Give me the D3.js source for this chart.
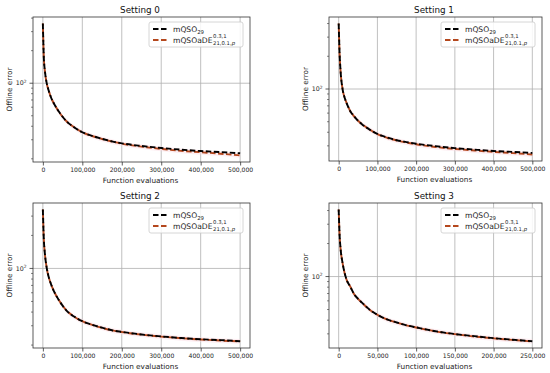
<!DOCTYPE html>
<html>
<head>
<meta charset="utf-8">
<script src="https://cdn.jsdelivr.net/npm/d3@7"></script>
<style>
  body { margin: 0; background: #fff; }
  svg { display: block; font-family: "DejaVu Sans", sans-serif; }
</style>
</head>
<body>
<svg id="chart" width="550" height="373"></svg>
<script>
// evaluation points (settings 0-2 run to 500k, setting 3 to 250k)
var evals = [0, 2500, 5000, 10000, 15000, 20000, 30000, 40000, 50000, 60000, 80000,
  100000, 125000, 150000, 175000, 200000, 250000, 300000, 350000, 400000, 450000, 500000];
var evalsHalf = [0, 1250, 2500, 5000, 7500, 10000, 15000, 20000, 25000, 30000, 40000,
  50000, 62500, 75000, 87500, 100000, 125000, 150000, 175000, 200000, 225000, 250000];

// offline error
var s0_mqso = [356, 170, 132, 99, 85, 75, 63, 55, 49, 44.5, 39, 35.2, 32.6, 30.6, 29.0, 27.8, 26.3, 25.2, 24.3, 23.6, 23.1, 22.5];
var s0_ade  = [356, 170, 132, 99, 85, 75, 63, 55, 49, 44.5, 39, 35.1, 32.5, 30.5, 28.9, 27.6, 25.9, 24.7, 23.7, 23.0, 22.3, 21.5];
var s1_mqso = [400, 206, 144, 100, 84, 75, 62.5, 56, 51, 47.5, 42.3, 38.6, 35.8, 33.8, 32.5, 31.4, 29.8, 28.6, 27.7, 26.9, 26.4, 25.8];
var s1_ade  = [400, 206, 144, 100, 84, 75, 62.5, 56, 51, 47.5, 42.3, 38.5, 35.6, 33.6, 32.2, 31.0, 29.3, 28.1, 27.2, 26.4, 25.7, 25.0];
var s2_mqso = [344, 182, 138, 100, 83, 73, 60, 51.8, 45.8, 41.3, 36.2, 33.0, 30.6, 28.8, 27.3, 26.4, 25.0, 24.0, 23.2, 22.6, 22.2, 21.7];
var s2_ade  = [344, 182, 138, 100, 83, 73, 60, 51.8, 45.8, 41.3, 36.2, 33.0, 30.6, 28.7, 27.3, 26.3, 24.9, 23.9, 23.1, 22.5, 22.0, 21.6];
var s3_mqso = [408, 234, 178, 133, 109, 94.4, 80.8, 69, 62.6, 57.8, 49.8, 44.8, 40.6, 38.1, 35.9, 34.4, 31.7, 29.9, 28.6, 27.4, 26.5, 25.7];
var s3_ade  = [408, 234, 178, 133, 109, 94.4, 80.8, 69, 62.6, 57.8, 49.8, 44.8, 40.6, 38.1, 35.9, 34.3, 31.6, 29.8, 28.4, 27.3, 26.4, 25.6];

var xTicks = [0, 100000, 200000, 300000, 400000, 500000];
var xTicksHalf = [0, 50000, 100000, 150000, 200000, 250000];
var titles = ["Setting 0", "Setting 1", "Setting 2", "Setting 3"];

var panels = [
  {left: 33,  top: 17,  w: 217, h: 145, x: evals,     a: s0_mqso, b: s0_ade, ticks: xTicks,     xmax: 500000},
  {left: 329, top: 17,  w: 213, h: 144, x: evals,     a: s1_mqso, b: s1_ade, ticks: xTicks,     xmax: 500000},
  {left: 33,  top: 203, w: 217, h: 145, x: evals,     a: s2_mqso, b: s2_ade, ticks: xTicks,     xmax: 500000},
  {left: 329, top: 203, w: 213, h: 145, x: evalsHalf, a: s3_mqso, b: s3_ade, ticks: xTicksHalf, xmax: 250000}
];

var ADE_COLOR = "#b4471d";
var DASH = "5.5,2.5";
var fmt = d3.format(",");
var svg = d3.select("#chart");

panels.forEach(function(p, i){
  var g = svg.append("g").attr("transform", "translate(" + p.left + "," + p.top + ")");

  var x = d3.scaleLinear()
    .domain([-0.05 * p.xmax, 1.05 * p.xmax])
    .range([0, p.w]);

  var all = p.a.concat(p.b);
  var lo = Math.log10(d3.min(all)), hi = Math.log10(d3.max(all));
  var pad = 0.05 * (hi - lo);
  var y = d3.scaleLog()
    .domain([Math.pow(10, lo - pad), Math.pow(10, hi + pad)])
    .range([p.h, 0]);

  // grid
  g.selectAll(".vgrid").data(p.ticks).enter().append("line")
    .attr("x1", function(d){ return x(d); }).attr("x2", function(d){ return x(d); })
    .attr("y1", 0).attr("y2", p.h)
    .attr("stroke", "#b0b0b0").attr("stroke-width", 0.8);

  var majors = [10, 100, 1000].filter(function(v){ return v >= y.domain()[0] && v <= y.domain()[1]; });
  g.selectAll(".hgrid").data(majors).enter().append("line")
    .attr("x1", 0).attr("x2", p.w)
    .attr("y1", function(d){ return y(d); }).attr("y2", function(d){ return y(d); })
    .attr("stroke", "#b0b0b0").attr("stroke-width", 0.8);

  // faint spread band
  var band = d3.area()
    .x(function(d, j){ return x(p.x[j]); })
    .y0(function(d){ return y(d * 0.95); })
    .y1(function(d){ return y(d * 1.05); })
    .curve(d3.curveMonotoneX);
  g.append("path").datum(p.b).attr("d", band)
    .attr("fill", "#fbd9e3").attr("opacity", 0.45);

  var line = d3.line()
    .x(function(d, j){ return x(p.x[j]); })
    .y(function(d){ return y(d); })
    .curve(d3.curveMonotoneX);

  g.append("path").datum(p.b).attr("d", line)
    .attr("fill", "none").attr("stroke", ADE_COLOR).attr("stroke-width", 1.9)
    .attr("stroke-dasharray", DASH).attr("stroke-dashoffset", 3.5);
  g.append("path").datum(p.a).attr("d", line)
    .attr("fill", "none").attr("stroke", "#000").attr("stroke-width", 1.9)
    .attr("stroke-dasharray", DASH);

  // x axis
  var xAxis = d3.axisBottom(x).tickValues(p.ticks).tickFormat(fmt).tickSize(3.5).tickPadding(2);
  var gx = g.append("g").attr("transform", "translate(0," + p.h + ")").call(xAxis);
  gx.select(".domain").remove();
  gx.selectAll("line").attr("stroke", "#333").attr("stroke-width", 0.8);
  gx.selectAll("text").attr("font-size", 6.1).attr("fill", "#222")
    .attr("font-family", "DejaVu Sans, sans-serif");

  // y axis: major + minor ticks
  var d0 = y.domain();
  var minors = [];
  for (var e = 0; e <= 3; e++) {
    for (var m = 2; m <= 9; m++) {
      var v = m * Math.pow(10, e);
      if (v >= d0[0] && v <= d0[1]) minors.push(v);
    }
  }
  g.selectAll(".minor").data(minors).enter().append("line")
    .attr("x1", -2).attr("x2", 0)
    .attr("y1", function(d){ return y(d); }).attr("y2", function(d){ return y(d); })
    .attr("stroke", "#333").attr("stroke-width", 0.6);
  g.selectAll(".major").data(majors).enter().append("line")
    .attr("x1", -3.5).attr("x2", 0)
    .attr("y1", function(d){ return y(d); }).attr("y2", function(d){ return y(d); })
    .attr("stroke", "#333").attr("stroke-width", 0.8);
  var yl = g.selectAll(".ylab").data(majors).enter().append("text")
    .attr("x", -6.5).attr("y", function(d){ return y(d) + 2.2; })
    .attr("text-anchor", "end").attr("font-size", 6.3).attr("fill", "#222");
  yl.append("tspan").text("10");
  yl.append("tspan").attr("font-size", 4.4).attr("dy", -2.7)
    .text(function(d){ return Math.round(Math.log10(d)); });

  // frame
  g.append("rect").attr("width", p.w).attr("height", p.h)
    .attr("fill", "none").attr("stroke", "#333").attr("stroke-width", 0.8);

  // labels
  g.append("text").attr("x", p.w / 2 - 1.5).attr("y", -4).attr("text-anchor", "middle")
    .attr("font-size", 8.8).attr("fill", "#111").text(titles[i]);
  g.append("text").attr("x", p.w / 2 - 1).attr("y", p.h + 21).attr("text-anchor", "middle")
    .attr("font-size", 7.3).attr("fill", "#222").text("Function evaluations");
  g.append("text").attr("transform", "translate(-21.5," + (p.h / 2) + ") rotate(-90)")
    .attr("text-anchor", "middle").attr("font-size", 7.3).attr("fill", "#222").text("Offline error");

  // legend
  var lw = 94, lh = 25;
  var lg = g.append("g").attr("transform", "translate(" + (p.w - lw - 7) + ",5)");
  lg.append("rect").attr("width", lw).attr("height", lh).attr("rx", 2)
    .attr("fill", "#fff").attr("fill-opacity", 0.85).attr("stroke", "#ccc").attr("stroke-width", 0.8);
  lg.append("line").attr("x1", 4).attr("x2", 18).attr("y1", 7).attr("y2", 7)
    .attr("stroke", "#000").attr("stroke-width", 1.9).attr("stroke-dasharray", DASH);
  lg.append("line").attr("x1", 4).attr("x2", 18).attr("y1", 18).attr("y2", 18)
    .attr("stroke", ADE_COLOR).attr("stroke-width", 1.9).attr("stroke-dasharray", DASH);
  var t1 = lg.append("text").attr("x", 24).attr("y", 9.8).attr("font-size", 7.6).attr("fill", "#222");
  t1.append("tspan").text("mQSO");
  t1.append("tspan").attr("font-size", 5.4).attr("dy", 1.8).text("29");
  var t2 = lg.append("text").attr("x", 24).attr("y", 20.8).attr("font-size", 7.6).attr("fill", "#222")
    .text("mQSOaDE");
  var sx = 24 + t2.node().getComputedTextLength() + 0.6;
  lg.append("text").attr("x", sx).attr("y", 15.6).attr("font-size", 5.3).attr("fill", "#222").text("0.3,1");
  var sub = lg.append("text").attr("x", sx).attr("y", 23.2).attr("font-size", 5.3).attr("fill", "#222");
  sub.append("tspan").text("21,0.1,");
  sub.append("tspan").attr("font-style", "italic").text("p");
});
</script>
</body>
</html>
